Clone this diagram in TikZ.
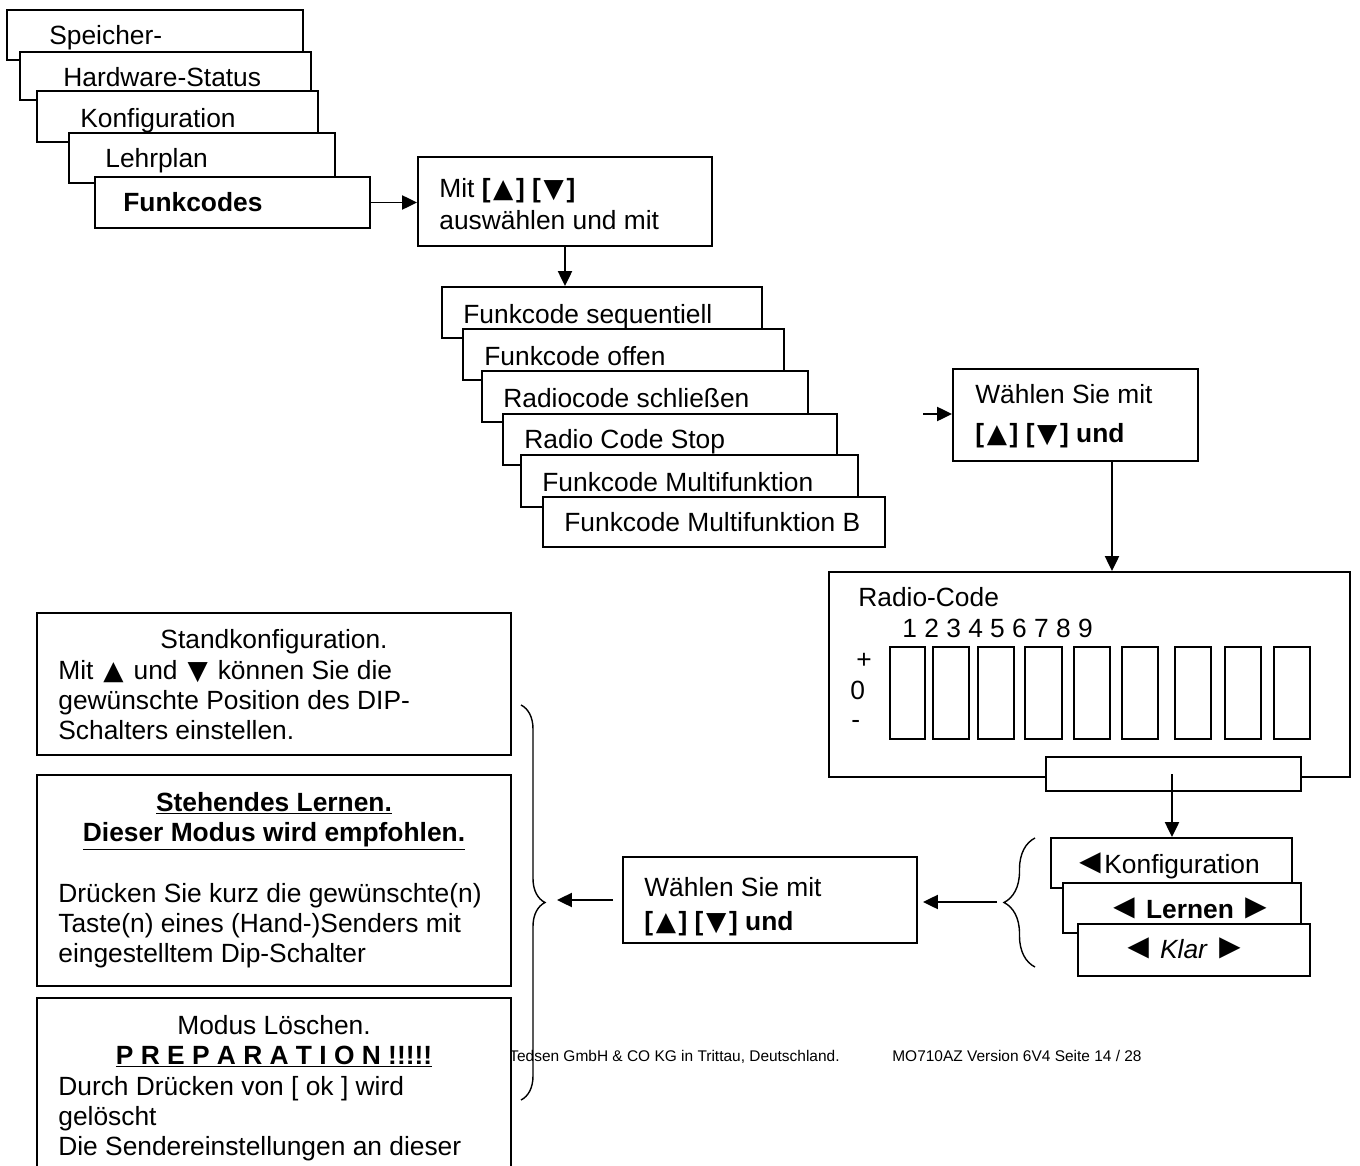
\documentclass[tikz,border=0pt]{standalone}
\usepackage{fontspec}
\setmainfont{Liberation Sans}
\newfontfamily\trifont[Scale=1.0]{DejaVu Sans}
\newfontfamily\pointfont[Scale=1.35]{Liberation Sans}
\newcommand{\triup}{{\kern0.1em\trifont ▲\kern0.1em}}
\newcommand{\tridn}{{\kern0.1em\trifont ▼\kern0.1em}}
\newcommand{\trilt}{{\pointfont ◄}}
\newcommand{\trirt}{{\pointfont ►}}
\usetikzlibrary{arrows.meta,fit,decorations.pathreplacing}

\tikzset{
  panel/.style={draw, fill=white, inner sep=0pt, line width=1.1pt},
  txt/.style={anchor=base west, inner sep=0pt, font=\fontsize{15}{18}\selectfont},
  ctxt/.style={txt, anchor=base},
  foot/.style={anchor=base west, inner sep=0pt, font=\fontsize{8.8}{10}\selectfont},
  flow/.style={line width=1.1pt, -{Triangle[length=8.5pt,width=8pt]}},
  brc/.style={line width=0.8pt, decorate, decoration={brace, amplitude=#1}},
  brc/.default=0.5cm
}

\begin{document}
\begin{tikzpicture}[x=0.02cm, y=-0.02cm]
\useasboundingbox (0,0) rectangle (1360,1166);
\clip (0,0) rectangle (1360,1166);

% main menu stack
\node[panel, fit={(7,10)(303,60)}] (spm) {};
\node[txt] (tspm) at (49,45) {Speicher-};
\node[panel, fit={(20,52)(311,100)}] (hws) {};
\node[txt] (thws) at (63,87) {Hardware-Status};
\node[panel, fit={(37,91)(318,142)}] (konf) {};
\node[txt] (tkonf) at (80,128) {Konfiguration};
\node[panel, fit={(69,133)(335,183)}] (lehr) {};
\node[txt] (tlehr) at (105,168) {Lehrplan};
\node[panel, fit={(95,177)(370,228)}] (funk) {};
\node[txt] (tfunk) at (123,212) {\textbf{Funkcodes}};

\node[panel, fit={(418,157)(712,246)}] (mit) {};
\node[txt] (tmit1) at (439,197) {Mit \textbf{[\triup] [\tridn]}};
\node[txt] (tmit2) at (439,230) {auswählen und mit};

% radio code stack
\node[panel, fit={(442,287)(762,338)}] (seq) {};
\node[txt] (tseq) at (463,323) {Funkcode sequentiell};
\node[panel, fit={(463,329)(784,380)}] (offen) {};
\node[txt] (toffen) at (484,365) {Funkcode offen};
\node[panel, fit={(482,371)(808,422)}] (schl) {};
\node[txt] (tschl) at (503,407) {Radiocode schließen};
\node[panel, fit={(503,414)(837,465)}] (stop) {};
\node[txt] (tstop) at (524,448) {Radio Code Stop};
\node[panel, fit={(521,455)(858,507)}] (multi) {};
\node[txt] (tmulti) at (542,491) {Funkcode Multifunktion};
\node[panel, fit={(543,497)(885,547)}] (multib) {};
\node[txt] (tmultib) at (564,531) {Funkcode Multifunktion B};

\node[panel, fit={(953,369)(1198,461)}] (waehl) {};
\node[txt] (twaehl1) at (975,403) {Wählen Sie mit};
\node[txt] (twaehl2) at (975,442) {\textbf{[\triup] [\tridn] und}};
\coordinate (inw) at (923,414);

% dip switch display
\node[panel, fit={(829,572)(1350,777)}] (radio) {};
\node[txt] (tradio) at (858,606) {Radio-Code};
\node[txt] (tnum) at (902,637) {1 2 3 4 5 6 7 8 9};
\node[ctxt] (tplus) at (864,668) {+};
\node[txt] (tnull) at (850,699) {0};
\node[txt] (tminus) at (851,728) {-};
\foreach \a/\b [count=\i] in {890/925, 933/969, 978/1014, 1025/1062, 1074/1110,
    1122/1158, 1175/1211, 1225/1261, 1274/1310}
  \node[panel, fit={(\a,647)(\b,739)}] (sw\i) {};
\node[panel, fit={(1046,757)(1301,791)}] (rbar) {};

% mode stack
\node[panel, fit={(1051,838)(1292,888)}] (konfb) {};
\node[txt] (tkonfb) at (1072,873) {\trilt\kern-0.12em Konfiguration};
\node[panel, fit={(1063,883)(1301,933)}] (lern) {};
\node[ctxt] (tlern) at (1190,918) {\trilt{}\,\textbf{Lernen}\,\trirt};
\node[panel, fit={(1078,924)(1310,976)}] (klar) {};
\node[ctxt] (tklar) at (1184,958) {\trilt{}\,\textit{Klar}\,\trirt};

\node[panel, fit={(623,857)(917,943)}] (waehlb) {};
\node[txt] (twaehlb1) at (644,896) {Wählen Sie mit};
\node[txt] (twaehlb2) at (644,930) {\textbf{[\triup] [\tridn] und}};

% footer
\node[foot] (fleft) at (509,1061) {Tedsen GmbH \& CO KG in Trittau, Deutschland.};
\node[foot] (fright) at (892,1061) {MO710AZ Version 6V4 Seite 14 / 28};

% mode descriptions
\node[panel, fit={(37,613)(511,755)}] (stand) {};
\node[ctxt] (tstand0) at (274,648) {Standkonfiguration.};
\node[txt] (tstand1) at (58,679) {Mit \triup{} und \tridn{} können Sie die};
\node[txt] (tstand2) at (58,709) {gewünschte Position des DIP-};
\node[txt] (tstand3) at (58,739) {Schalters einstellen.};

\node[panel, fit={(37,775)(511,986)}] (steh) {};
\node[ctxt] (tsteh0) at (274,811) {\underline{\textbf{Stehendes Lernen.}}};
\node[ctxt] (tsteh1) at (274,841) {\underline{\textbf{Dieser Modus wird empfohlen.}}};
\node[txt] (tsteh2) at (58,902) {Drücken Sie kurz die gewünschte(n)};
\node[txt] (tsteh3) at (58,932) {Taste(n) eines (Hand-)Senders mit};
\node[txt] (tsteh4) at (58,962) {eingestelltem Dip-Schalter};

\node[panel, fit={(37,998)(511,1190)}] (loesch) {};
\node[ctxt] (tloesch0) at (274,1034) {Modus Löschen.};
\node[ctxt] (tloesch1) at (274,1064) {\underline{\textbf{P R E P A R A T I O N !!!!!}}};
\node[txt] (tloesch2) at (58,1095) {Durch Drücken von [ ok ] wird};
\node[txt] (tloesch3) at (58,1125) {gelöscht};
\node[txt] (tloesch4) at (58,1155) {Die Sendereinstellungen an dieser};

% braces
\draw[brc=0.48cm] (521,705) -- (521,1100);
\coordinate (rbtip) at (545,902);
\draw[brc=0.62cm] (1035,967) -- (1035,838);
\coordinate (lbtip) at (1004,902);

% arrows
\draw[flow] (funk.east) -- (funk.east -| mit.west);
\draw[flow] (mit.south) -- (mit.south |- seq.north);
\draw[flow] (inw) -- (inw -| waehl.west);
\draw[flow] (1112,0 |- waehl.south) -- (1112,0 |- radio.north);
\draw[flow] (1172,0 |- rbar.center) -- (1172,0 |- konfb.north);
\draw[flow, shorten <=0.14cm, shorten >=0.1cm] (lbtip) -- (lbtip -| waehlb.east);
\draw[flow, shorten <=0.18cm, shorten >=0.24cm] (waehlb.west) -- (waehlb.west -| rbtip);
\end{tikzpicture}
\end{document}
